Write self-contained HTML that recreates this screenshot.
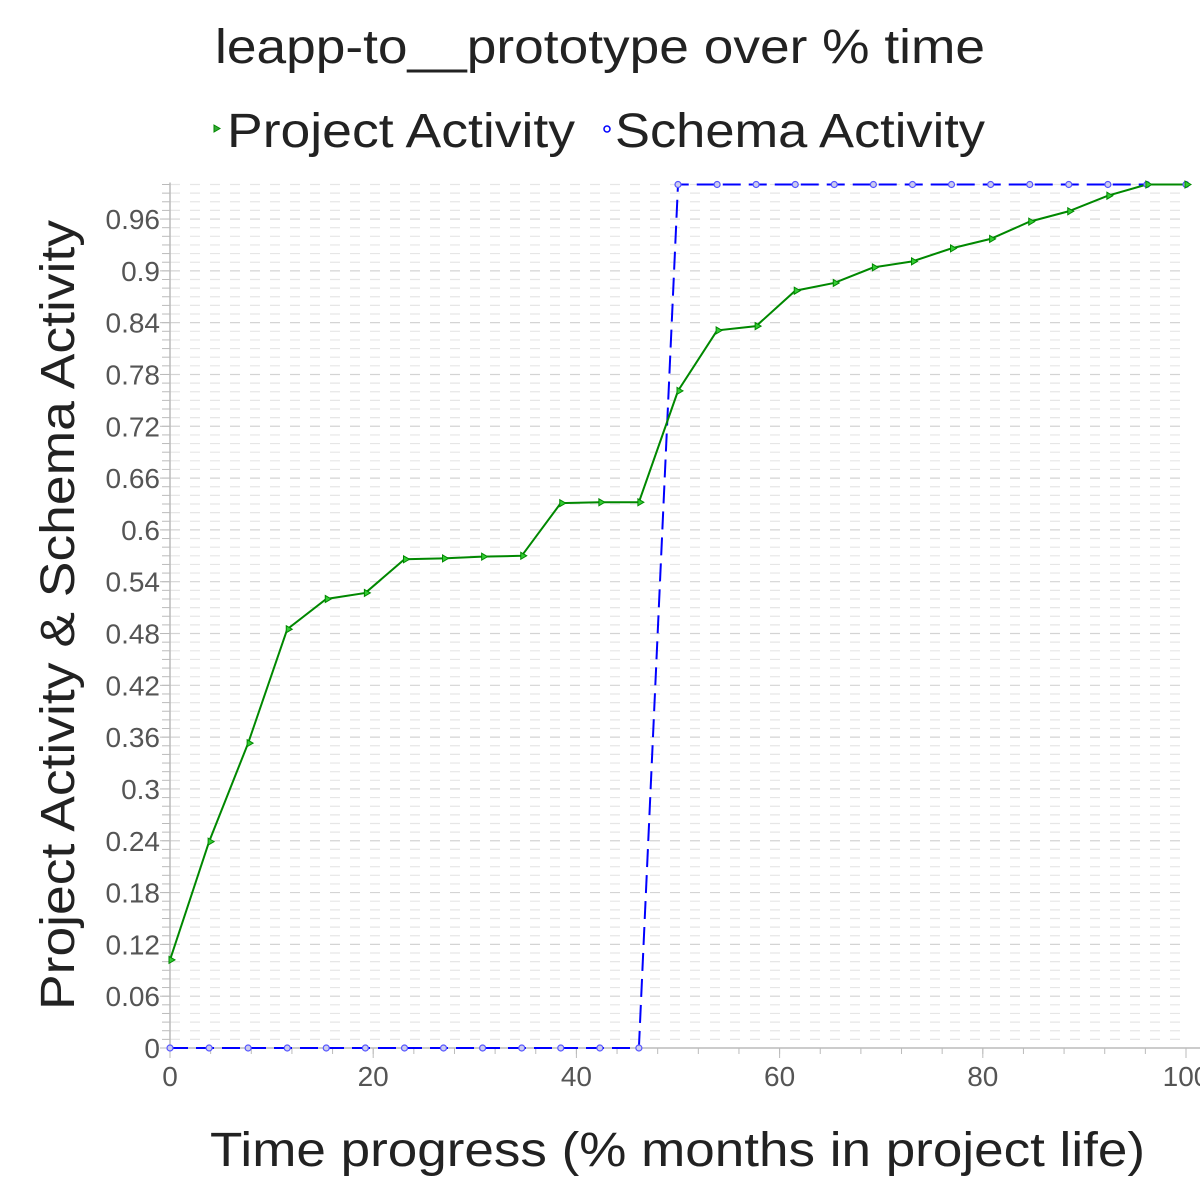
<!DOCTYPE html>
<html><head><meta charset="utf-8"><style>
html,body{margin:0;padding:0;background:#fff;}
svg{display:block;font-family:"Liberation Sans",sans-serif;}
</style></head><body>
<svg id="chart" width="1200" height="1200" viewBox="0 0 1200 1200">
<text x="215" y="63" textLength="770" lengthAdjust="spacingAndGlyphs" font-size="48" fill="#222">leapp-to__prototype over % time</text>
<g>
 <g><path d="M214,125 l6,3.5 l-6,3.5z" fill="#3a3" stroke="#080"/><text x="227" y="147" textLength="348" lengthAdjust="spacingAndGlyphs" font-size="48" fill="#222">Project Activity</text></g>
 <g><circle cx="607" cy="129" r="3" fill="none" stroke="#00f" stroke-width="1.5"/><text x="615" y="147" textLength="370" lengthAdjust="spacingAndGlyphs" font-size="48" fill="#222">Schema Activity</text></g>
</g>
<g id="grid"></g>
<g id="axes"></g>
<g id="series"></g>
<text x="210" y="1166" textLength="935" lengthAdjust="spacingAndGlyphs" font-size="48" fill="#222">Time progress (% months in project life)</text>
<text transform="translate(74,1010) rotate(-90)" textLength="790" lengthAdjust="spacingAndGlyphs" font-size="48" fill="#222">Project Activity &amp; Schema Activity</text>
</svg>
<script>
const xValues = [0,3.85,7.69,11.54,15.38,19.23,23.08,26.92,30.77,34.62,38.46,42.31,46.15,50,53.85,57.69,61.54,65.38,69.23,73.08,76.92,80.77,84.62,88.46,92.31,96.15,100];
const projectActivity = [0.102,0.239,0.353,0.485,0.52,0.527,0.566,0.567,0.569,0.57,0.631,0.632,0.632,0.761,0.831,0.836,0.877,0.886,0.904,0.911,0.926,0.937,0.957,0.969,0.987,1.0,1.0];
const schemaActivity = [0,0,0,0,0,0,0,0,0,0,0,0,0,1,1,1,1,1,1,1,1,1,1,1,1,1,1];
const yTickLabels = ["0","0.06","0.12","0.18","0.24","0.3","0.36","0.42","0.48","0.54","0.6","0.66","0.72","0.78","0.84","0.9","0.96"];
const xTickLabels = ["0","20","40","60","80","100"];

const NS="http://www.w3.org/2000/svg";
const X0=170,X1=1186,Y0=1048,Y1=184.5;
const sx=v=>X0+(v/100)*(X1-X0);
const sy=v=>Y0-v*(Y0-Y1);
function mk(tag,attrs,parent){const e=document.createElementNS(NS,tag);for(const k in attrs)e.setAttribute(k,attrs[k]);parent.appendChild(e);return e;}
const grid=document.getElementById('grid'),axes=document.getElementById('axes'),series=document.getElementById('series');
for(let i=1;i<=100;i++){const y=sy(i/100);
 const l=mk('line',{x1:X0,x2:X1,y1:y,y2:y,stroke:i%6===0?'#d4d4d4':'#e6e6e6','stroke-width':1.2,'stroke-dasharray':'10 10'},grid);
 
 
 mk('line',{x1:X0-8,x2:X0,y1:y,y2:y,stroke:'#bbb'},axes);
}
mk('line',{x1:X0,x2:X0,y1:Y1-2,y2:Y0,stroke:'#bbb','stroke-width':1.5},axes);
mk('line',{x1:X0,x2:X1+14,y1:Y0,y2:Y0,stroke:'#bbb','stroke-width':1.5},axes);
yTickLabels.forEach(t=>{const v=parseFloat(t),y=sy(v);
 mk('line',{x1:X0-10,x2:X0,y1:y,y2:y,stroke:'#bbb'},axes);
 const tx=mk('text',{x:X0-10,y:y+10,'text-anchor':'end','font-size':28,fill:'#555'},axes);tx.textContent=t;
 
 
});
for(let v=0;v<=100;v+=4){mk('line',{x1:sx(v),x2:sx(v),y1:Y0,y2:Y0+6,stroke:'#bbb'},axes);}
xTickLabels.forEach(t=>{const v=parseFloat(t),x=sx(v);
 mk('line',{x1:x,x2:x,y1:Y0,y2:Y0+10,stroke:'#bbb'},axes);
 const tx=mk('text',{x:x,y:Y0+38,'text-anchor':'middle','font-size':28,fill:'#555'},axes);tx.textContent=t;
 
 
});
const pp=xValues.map((x,i)=>sx(x)+','+sy(projectActivity[i])).join(' ');
const sp=xValues.map((x,i)=>sx(x)+','+sy(schemaActivity[i])).join(' ');
const sl=mk('polyline',{points:sp,fill:'none',stroke:'#00f','stroke-width':2,'stroke-dasharray':'18 8'},series);


const pl=mk('polyline',{points:pp,fill:'none',stroke:'#080','stroke-width':2},series);


xValues.forEach((x,i)=>{
 const c=mk('circle',{cx:sx(x),cy:sy(schemaActivity[i]),r:3,fill:'#cce','stroke':'#55f','stroke-width':1.2},series);
 
 
});
xValues.forEach((x,i)=>{const px=sx(x),py=sy(projectActivity[i]);
 const p=mk('path',{d:`M${px-1},${py-3.5} l6,3.5 l-6,3.5z`,fill:'#3c3',stroke:'#080','stroke-width':1},series);
 
 
});
</script>
</body></html>
